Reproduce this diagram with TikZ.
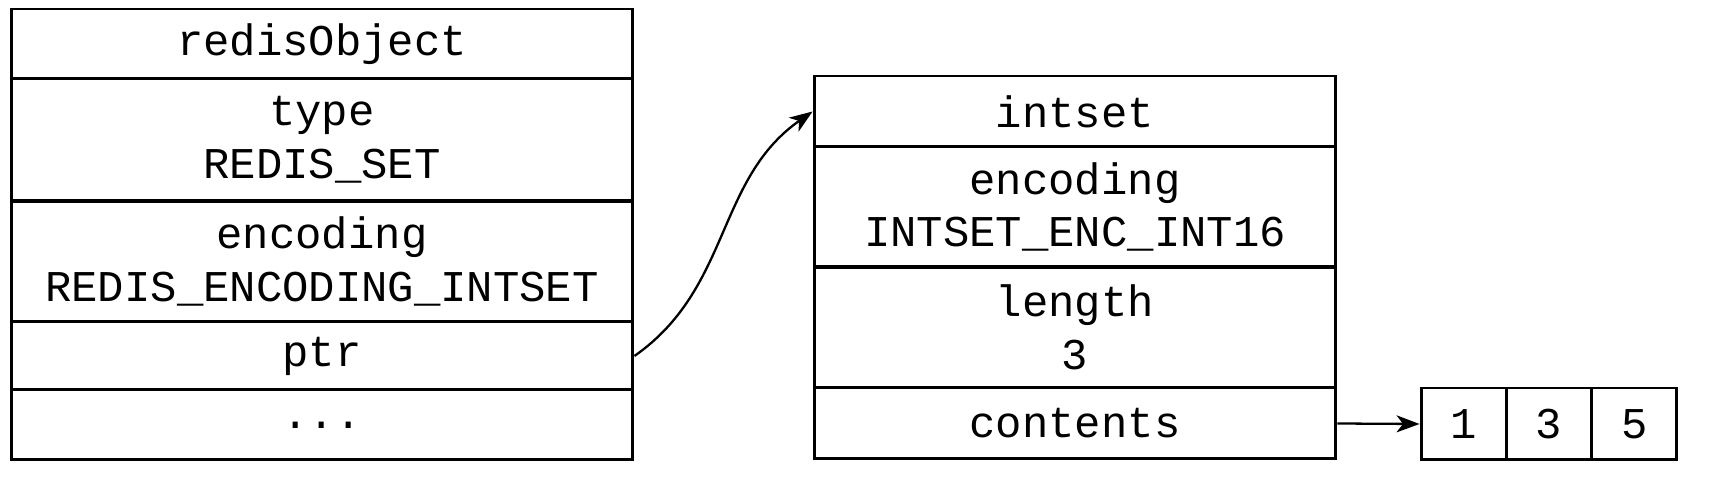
\documentclass[tikz,border=0pt]{standalone}
\usepackage{fontspec}
\setmonofont{Liberation Mono}
\usetikzlibrary{arrows}
\usetikzlibrary{arrows.meta}
\usetikzlibrary{shapes}

\begin{document}
\begin{tikzpicture}[x = 0.02cm, y = -0.02cm]
\tikzstyle{FieldStyle}=[shape = rectangle,
                         draw,
                         line width = 1.7pt,
                         inner sep = 0pt,
                         align = center,
                         font = \ttfamily\fontsize{25}{30}\selectfont]
\tikzstyle{PtrStyle}=[line width = 1.3pt,
                       -{Stealth[length = 0.46cm, width = 0.34cm, inset = 0.13cm]}]
\useasboundingbox (0,0) rectangle (1712,482);
% redisObject
\node[FieldStyle, minimum width = 12.44cm, minimum height = 1.40cm] (o0) at (322, 44) {redisObject};
\node[FieldStyle, minimum width = 12.44cm, minimum height = 2.44cm] (o1) at (322, 140) {type\\REDIS\_SET};
\node[FieldStyle, minimum width = 12.44cm, minimum height = 2.42cm] (o2) at (322, 261.5) {encoding\\REDIS\_ENCODING\_INTSET};
\node[FieldStyle, minimum width = 12.44cm, minimum height = 1.36cm] (o3) at (322, 356) {ptr};
\node[FieldStyle, minimum width = 12.44cm, minimum height = 1.40cm] (o4) at (322, 425) {...};
% intset
\node[FieldStyle, minimum width = 10.44cm, minimum height = 1.42cm] (s0) at (1075, 111.5) {intset};
\node[FieldStyle, minimum width = 10.44cm, minimum height = 2.40cm] (s1) at (1075, 207) {encoding\\INTSET\_ENC\_INT16};
\node[FieldStyle, minimum width = 10.44cm, minimum height = 2.42cm] (s2) at (1075, 327.5) {length\\3};
\node[FieldStyle, minimum width = 10.44cm, minimum height = 1.42cm] (s3) at (1075, 423.5) {contents};
% contents
\node[FieldStyle, minimum width = 1.707cm, minimum height = 1.44cm] (e0) at (1463.7, 424) {1};
\node[FieldStyle, minimum width = 1.707cm, minimum height = 1.44cm] (e1) at (1549, 424) {3};
\node[FieldStyle, minimum width = 1.707cm, minimum height = 1.44cm] (e2) at (1634.3, 424) {5};
\draw[PtrStyle] (o3.east) to[out = 35, in = -145] (s0.west);
\draw[PtrStyle] (s3.east) -- (e0.west);
\end{tikzpicture}
\end{document}
